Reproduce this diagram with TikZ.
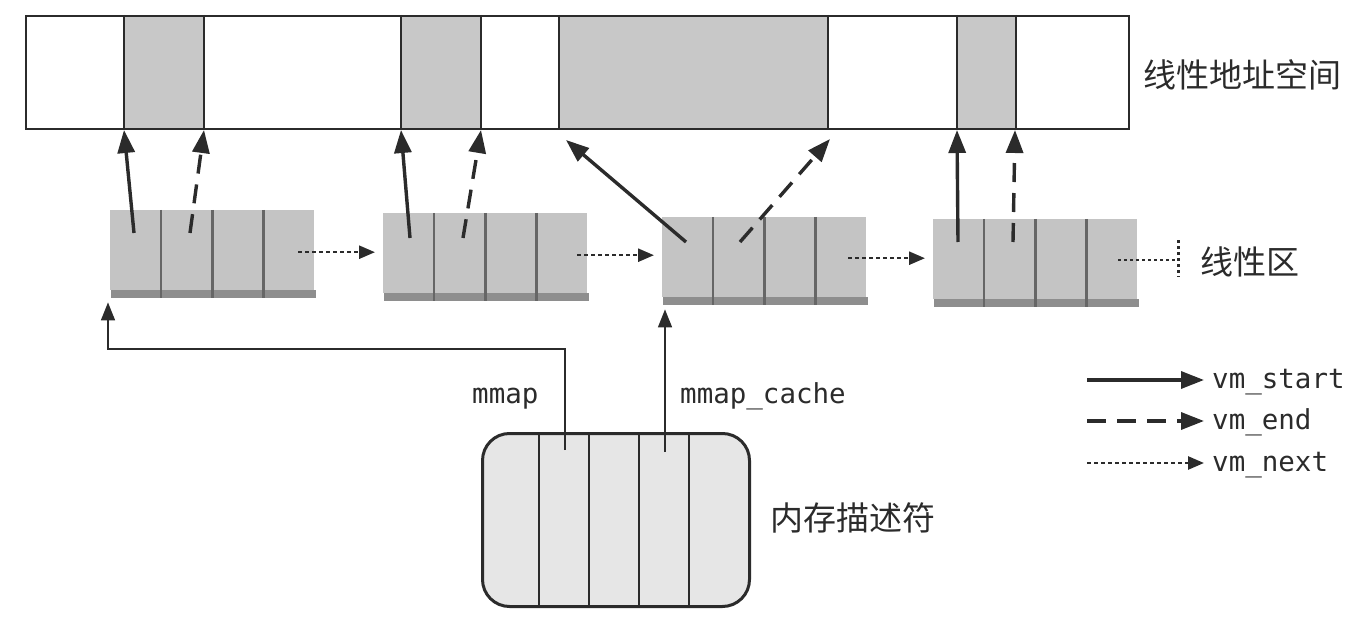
\documentclass[tikz,border=0pt]{standalone}
\usepackage{fontspec}
\newfontfamily\cjkfont{Noto Sans CJK SC}
\newfontfamily\monofont{DejaVu Sans Mono}
\usetikzlibrary{arrows.meta,calc}
\definecolor{linec}{HTML}{2B2B2B}
\definecolor{segc}{HTML}{C8C8C8}
\definecolor{boxc}{HTML}{C4C4C4}
\definecolor{shadc}{HTML}{8E8E8E}
\definecolor{divc}{HTML}{666666}
\definecolor{descc}{HTML}{E6E6E6}
\begin{document}
\begin{tikzpicture}[x=1pt,y=-1pt,
  bigtip/.style={-{Triangle[length=23pt,width=17pt]}},
  startarr/.style={bigtip,line width=3.4pt,draw=linec},
  endarr/.style={bigtip,line width=3.4pt,draw=linec,dash pattern=on 19pt off 11pt},
  nextarr/.style={-{Triangle[length=16pt,width=13pt]},line width=2.6pt,draw=linec,dash pattern=on 3.5pt off 3.5pt},
  ptrarr/.style={-{Triangle[length=18pt,width=14pt]},line width=1.6pt,draw=linec},
  lbox/.style={fill=boxc,inner sep=0pt,minimum width=204pt,minimum height=80pt,anchor=north west},
  cjk/.style={font=\cjkfont\fontsize{33}{40}\selectfont,inner sep=0pt,text=linec},
  mono/.style={font=\monofont\fontsize{27.5}{32}\selectfont,inner sep=0pt,text=linec},
  divline/.style={draw=divc,line width=2.6pt},
]
\useasboundingbox (0,0) rectangle (1360,620);

% linear address space
\foreach \a/\b in {124/204,401/481,559/828,957/1016}
  \fill[segc] (\a,15) rectangle (\b,128);
\foreach \a in {124,204,401,481,559,828,957,1016}
  \draw[linec,line width=2pt] (\a,15) -- (\a,128);
\node[draw=linec,line width=2.2pt,minimum width=1103pt,minimum height=113pt,inner sep=0pt,anchor=north west] (bar) at (25,15) {};
\node[cjk,anchor=west] (barlab) at (1143,75) {线性地址空间};

% linear regions
\foreach \n/\x/\y in {r1/110/210,r2/383/213,r3/662/217,r4/933/219}{
  \node[lbox] (\n) at (\x,\y) {};
  \fill[shadc] ($(\n.south west)+(1,0)$) rectangle ($(\n.south east)+(2,8)$);
  \foreach \i in {1,2,3}
    \draw[divline] ($(\n.north west)!\i/4!(\n.north east)$) -- ($(\n.south west)!\i/4!(\n.south east)+(0,8)$);
}

% vm_start / vm_end connectors
\coordinate (s1) at (134,233); \coordinate (e1) at (190,233);
\coordinate (s2) at (410,238); \coordinate (e2) at (463,238);
\coordinate (s3) at (686,242); \coordinate (e3) at (740,242);
\coordinate (s4) at (958,242); \coordinate (e4) at (1013,242);
\coordinate (ts1) at (124,130); \coordinate (te1) at (204,130);
\coordinate (ts2) at (401,130); \coordinate (te2) at (481,130);
\coordinate (ts3) at (566,140); \coordinate (te3) at (830,139);
\coordinate (ts4) at (957,130); \coordinate (te4) at (1015,130);
\foreach \i in {1,2,3,4}{
  \draw[startarr] (s\i) -- (ts\i);
  \draw[endarr] (e\i) -- (te\i);
}

% vm_next connectors
\draw[nextarr] ($(r1.east)+(-16,2)$) -- ($(r2.west)+(-8,-1)$);
\draw[nextarr] ($(r2.east)+(-10,2)$) -- ($(r3.west)+(-8,-2)$);
\draw[nextarr] ($(r3.east)+(-18,1)$) -- ($(r4.west)+(-8,-1)$);
\coordinate (tick) at ($(r4.east)+(41,1)$);
\draw[linec,line width=2.2pt,dash pattern=on 3pt off 3pt] ($(r4.east)+(-19,1)$) -- (tick);
\draw[linec,line width=2.2pt,dash pattern=on 3pt off 3pt] ($(tick)+(0,-20)$) -- ($(tick)+(0,17)$);
\node[cjk,anchor=west] (reglab) at (1200,262) {线性区};

% memory descriptor
\node[draw=linec,line width=3pt,fill=descc,rounded corners=27pt,minimum width=267pt,minimum height=173pt,inner sep=0pt,anchor=north west] (desc) at (481,432) {};
\foreach \a in {539,589,639,689}
  \draw[linec,line width=2pt] (\a,432) -- (\a,605);
\node[cjk,anchor=west] (desclab) at (770,518) {内存描述符};

\coordinate (dm) at (565,450);
\coordinate (dc) at (665,452);
\draw[ptrarr] (dm) |- (108,349) -- ($(r1.south west)+(-2,12)$);
\draw[ptrarr] (dc) -- ($(r3.south west)+(3,12)$);
\node[mono,anchor=base west] (mmaplab) at (472,403) {mmap};
\node[mono,anchor=base west] (cachelab) at (680,403) {mmap\_cache};

% legend
\coordinate (l1a) at (1087,380); \coordinate (l1b) at (1204,380);
\coordinate (l2a) at (1087,421); \coordinate (l2b) at (1204,421);
\coordinate (l3a) at (1087,463); \coordinate (l3b) at (1204,463);
\draw[startarr] (l1a) -- (l1b);
\draw[endarr] (l2a) -- (l2b);
\draw[nextarr] (l3a) -- (l3b);
\node[mono,anchor=base west] (lg1) at ($(l1b)+(8,8)$) {vm\_start};
\node[mono,anchor=base west] (lg2) at ($(l2b)+(8,8)$) {vm\_end};
\node[mono,anchor=base west] (lg3) at ($(l3b)+(8,8)$) {vm\_next};
\end{tikzpicture}
\end{document}
